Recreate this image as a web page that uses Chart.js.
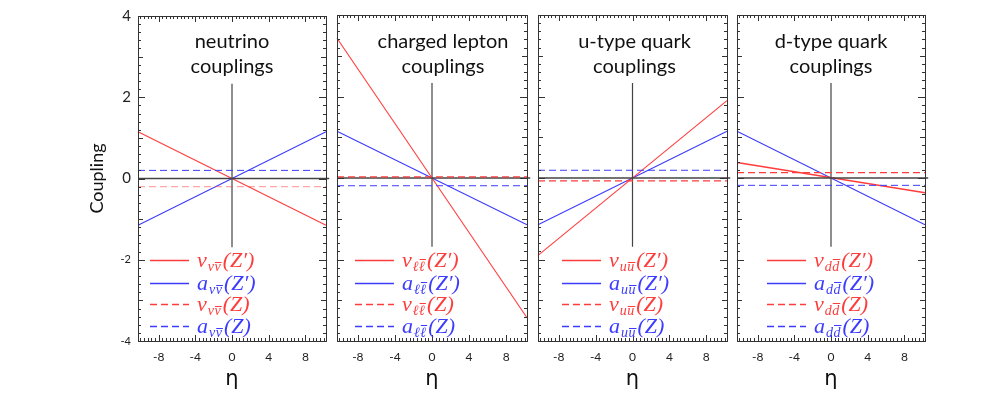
<!DOCTYPE html>
<html lang="en">
<head>
<meta charset="UTF-8">
<title>Couplings vs eta</title>
<style>
  body { margin: 0; background: #fff; }
  #wrap { position: relative; width: 990px; height: 396px; overflow: hidden; }
  #wrap canvas { position: absolute; top: 0; }
</style>
</head>
<body>
<div id="wrap"></div>
<script src="https://cdn.jsdelivr.net/npm/chart.js"></script>
<script>
// panel titles (two lines each)
const titles = [
  ['neutrino', 'couplings'],
  ['charged lepton', 'couplings'],
  ['u-type quark', 'couplings'],
  ['d-type quark', 'couplings']
];
// subscript letter used in the legend of each panel
const fermions = ['\u03BD', '\u2113', 'u', 'd'];

// eta axis
const etaMin = -10.25;
const etaMax = 10.25;
const etaTicks = [-8, -4, 0, 4, 8];
const couplingTicks = [-4, -2, 0, 2, 4];

// Z' couplings: value at eta = etaMin and at eta = etaMax
const vZprime = [[1.15, -1.15], [3.43, -3.43], [-1.9, 1.9], [0.38, -0.36]];
const aZprime = [[-1.15, 1.15], [1.15, -1.15], [-1.15, 1.15], [1.15, -1.15]];
// SM Z couplings (constant in eta)
const vZ = [-0.2, 0.03, -0.07, 0.13];
const aZ = [0.2, -0.19, 0.19, -0.18];
// the vertical marker at eta = 0 runs between these couplings
const markerSpan = [2.33, -1.69];

// layout of the four boxes
const boxLeft = [138, 337, 538, 737];
const boxWidth = [188, 190, 189, 188];
const titleShift = [0, 11, 2, 0];
const legendShift = [12, 18, 24, 30];

const RED = 'rgb(255,60,60)';
const BLUE = 'rgb(60,60,255)';

// frame, inward ticks, titles and legend
const decor = {
  id: 'decor',
  afterDatasetsDraw(chart) {
    const ctx = chart.ctx;
    const a = chart.chartArea;
    const xs = chart.scales.x, ys = chart.scales.y;
    const p = chart.options.plugins.decor.panel;
    ctx.save();
    ctx.strokeStyle = '#333';
    ctx.lineWidth = 1;
    ctx.strokeRect(Math.round(a.left) + 0.5, Math.round(a.top) + 0.5, Math.round(a.width), Math.round(a.height));
    ctx.beginPath();
    for (let i = -25; i <= 25; i++) {
      const v = i * 0.4;
      const px = Math.round(xs.getPixelForValue(v)) + 0.5;
      if (px <= a.left || px >= a.right) continue;
      const len = (i % 10 === 0) ? 6 : 3;
      ctx.moveTo(px, a.top); ctx.lineTo(px, a.top + len);
      ctx.moveTo(px, a.bottom); ctx.lineTo(px, a.bottom - len);
    }
    for (let i = -20; i <= 20; i++) {
      const v = i * 0.2;
      const py = Math.round(ys.getPixelForValue(v)) + 0.5;
      if (py <= a.top || py >= a.bottom) continue;
      const len = (i % 10 === 0) ? 7 : (i % 5 === 0 ? 5 : 3);
      ctx.moveTo(a.left, py); ctx.lineTo(a.left + len, py);
      ctx.moveTo(a.right, py); ctx.lineTo(a.right - len, py);
    }
    ctx.stroke();

    // title inside the box
    ctx.fillStyle = '#111';
    ctx.font = '20px Lato';
    ctx.textAlign = 'center';
    ctx.textBaseline = 'middle';
    const cx = (a.left + a.right) / 2 + titleShift[p];
    ctx.fillText(titles[p][0], cx, 42);
    ctx.fillText(titles[p][1], cx, 67);

    // legend
    const rows = [
      ['v', "(Z\u2032)", RED, []],
      ['a', "(Z\u2032)", BLUE, []],
      ['v', '(Z)', RED, [7, 4]],
      ['a', '(Z)', BLUE, [7, 4]]
    ];
    const rowY = [260, 283, 304, 326];
    const x0 = a.left + legendShift[p];
    rows.forEach((r, k) => {
      const y = rowY[k] + 0.5;
      ctx.strokeStyle = r[2];
      ctx.lineWidth = 1.3;
      ctx.setLineDash(r[3]);
      ctx.beginPath();
      ctx.moveTo(x0, y); ctx.lineTo(x0 + 39, y);
      ctx.stroke();
      ctx.setLineDash([]);
      drawLabel(ctx, x0 + 47, y, r[0], fermions[p], r[1], r[2]);
    });
    ctx.restore();
  }
};

function drawLabel(ctx, x, y, main, sub, boson, color) {
  ctx.fillStyle = color;
  ctx.strokeStyle = color;
  ctx.textAlign = 'left';
  ctx.textBaseline = 'alphabetic';
  ctx.font = 'italic 22px "Liberation Serif"';
  ctx.fillText(main, x, y + 6);
  x += ctx.measureText(main).width + 1;
  ctx.font = 'italic 14px "Liberation Serif"';
  const m = ctx.measureText(sub);
  const sw = m.width;
  const base = y + 10;
  ctx.fillText(sub, x, base);
  ctx.fillText(sub, x + sw + 0.5, base);
  const barY = Math.round(base - m.actualBoundingBoxAscent - 2) + 0.5;
  ctx.lineWidth = 1;
  ctx.beginPath();
  ctx.moveTo(x + sw + 1, barY); ctx.lineTo(x + 2 * sw + 1.5, barY);
  ctx.stroke();
  x += 2 * sw + 2.5;
  ctx.font = 'italic 22px "Liberation Serif"';
  ctx.fillText(boson, x, y + 6);
}

function line(y0, y1) {
  return [{ x: etaMin, y: y0 }, { x: etaMax, y: y1 }];
}

const wrap = document.getElementById('wrap');

for (let p = 0; p < 4; p++) {
  const yw = p === 0 ? boxLeft[0] : 60;
  const rightPad = 6;
  const w = yw + boxWidth[p] + rightPad;
  const canvas = document.createElement('canvas');
  canvas.width = w;
  canvas.height = 396;
  canvas.style.left = (boxLeft[p] - yw) + 'px';
  canvas.style.width = w + 'px';
  canvas.style.height = '396px';
  wrap.appendChild(canvas);

  const zDash = (p === 0) ? 'rgba(255,60,60,0.45)' : RED;

  new Chart(canvas, {
    type: 'scatter',
    data: {
      datasets: [
        { data: line(vZ[p], vZ[p]), borderColor: zDash, borderDash: [7, 4], borderWidth: 1.3 },
        { data: line(aZ[p], aZ[p]), borderColor: BLUE, borderDash: [7, 4], borderWidth: 1 },
        { data: [{ x: etaMin, y: 0 }, { x: etaMax + 0.35, y: 0 }], borderColor: '#444', borderWidth: 1.5 },
        { data: [{ x: 0, y: markerSpan[0] }, { x: 0, y: markerSpan[1] }], borderColor: '#444', borderWidth: 1.2 },
        { data: line(vZprime[p][0], vZprime[p][1]), borderColor: RED, borderWidth: p === 3 ? 1.6 : 1.1 },
        { data: line(aZprime[p][0], aZprime[p][1]), borderColor: BLUE, borderWidth: 1.1 }
      ].map(d => Object.assign({ showLine: true, pointRadius: 0, fill: false, clip: false }, d))
    },
    options: {
      responsive: false,
      animation: false,
      layout: { padding: { top: 15, right: rightPad, left: 0, bottom: 0 } },
      plugins: {
        legend: { display: false },
        tooltip: { enabled: false },
        decor: { panel: p }
      },
      scales: {
        x: {
          type: 'linear',
          min: etaMin,
          max: etaMax,
          grid: { display: false, drawTicks: false },
          border: { display: false },
          afterBuildTicks: s => { s.ticks = etaTicks.map(v => ({ value: v })); },
          afterFit: s => { s.height = 55; },
          ticks: { padding: 9, color: '#222', font: { family: 'Lato', size: 12 } },
          title: { display: true, text: '\u03B7', color: '#111', font: { family: 'DejaVu Sans', size: 21 }, padding: { top: 0, bottom: 4 } }
        },
        y: {
          min: -4,
          max: 4,
          grid: { display: false, drawTicks: false },
          border: { display: false },
          afterBuildTicks: s => { s.ticks = couplingTicks.map(v => ({ value: v })); },
          afterFit: s => { s.width = yw; },
          ticks: {
            display: p === 0,
            padding: 7,
            color: '#222',
            font: c => ({ family: 'Lato', size: (c.tick && c.tick.value < 0) ? 11 : 15 })
          },
          title: { display: p === 0, text: 'Coupling', color: '#111', font: { family: 'Lato', size: 18 }, padding: { top: 86, bottom: 0 } }
        }
      }
    },
    plugins: [decor]
  });
}
</script>
</body>
</html>
